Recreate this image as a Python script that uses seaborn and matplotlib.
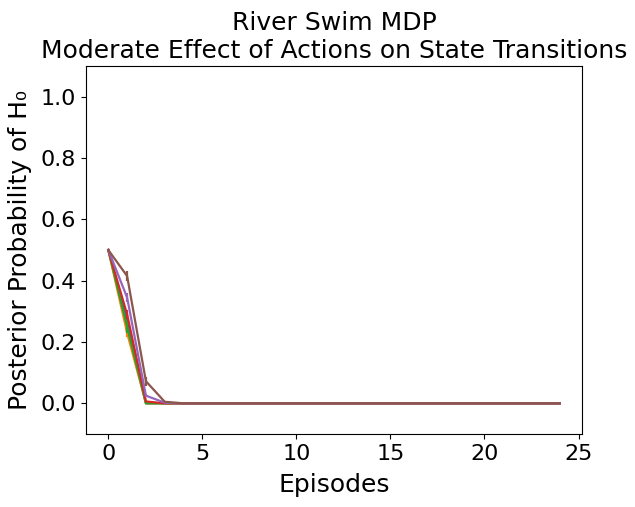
import numpy as np
import pandas as pd
import matplotlib
matplotlib.use("Agg")
import matplotlib.pyplot as plt
import seaborn as sns

# posterior probability of H0 per episode, one series per run setting
episodes = list(range(25))
tail = [0.0] * 20
mean_1 = [0.50, 0.27, 0.000, 0.0, 0.0] + tail
mean_2 = [0.50, 0.23, 0.000, 0.0, 0.0] + tail
mean_3 = [0.50, 0.25, 0.000, 0.0, 0.0] + tail
mean_4 = [0.50, 0.29, 0.006, 0.0, 0.0] + tail
mean_5 = [0.50, 0.345, 0.025, 0.002, 0.0] + tail
mean_6 = [0.50, 0.415, 0.072, 0.005, 0.0] + tail
err_1 = [0.0, 0.02, 0.0, 0.0, 0.0] + tail
err_2 = [0.0, 0.015, 0.0, 0.0, 0.0] + tail
err_3 = [0.0, 0.02, 0.0, 0.0, 0.0] + tail
err_4 = [0.0, 0.015, 0.003, 0.0, 0.0] + tail
err_5 = [0.0, 0.015, 0.006, 0.0, 0.0] + tail
err_6 = [0.0, 0.015, 0.015, 0.0, 0.0] + tail

means = [mean_1, mean_2, mean_3, mean_4, mean_5, mean_6]
errs = [err_1, err_2, err_3, err_4, err_5, err_6]

rows = []
for i, (m, e) in enumerate(zip(means, errs)):
    for ep, v, s in zip(episodes, m, e):
        rows.append({"episode": ep, "posterior": v, "err": s, "run": i})
df = pd.DataFrame(rows)

colors = sns.color_palette("tab10", 6)

fig = plt.figure(figsize=(6.35, 5.07), dpi=100)
ax = fig.add_axes([0.135, 0.144, 0.782, 0.726])

for i in range(6):
    sub = df[df["run"] == i]
    sns.lineplot(data=sub, x="episode", y="posterior", color=colors[i], lw=1.6, ax=ax)
    ax.errorbar(sub["episode"], sub["posterior"], yerr=sub["err"], fmt="none",
                ecolor=colors[i], elinewidth=1.6)

ax.set_ylim(-0.1, 1.1)
ax.set_xlim(-1.2, 25.2)
ax.set_xticks([0, 5, 10, 15, 20, 25])
ax.set_yticks([0.0, 0.2, 0.4, 0.6, 0.8, 1.0])
ax.tick_params(labelsize=16)
ax.set_xlabel("Episodes", fontsize=18, labelpad=7)
ax.set_ylabel("Posterior Probability of H\u2080", fontsize=18, labelpad=6)
ax.set_title("River Swim MDP\nModerate Effect of Actions on State Transitions", fontsize=18)

fig.savefig("out.png", dpi=100)
